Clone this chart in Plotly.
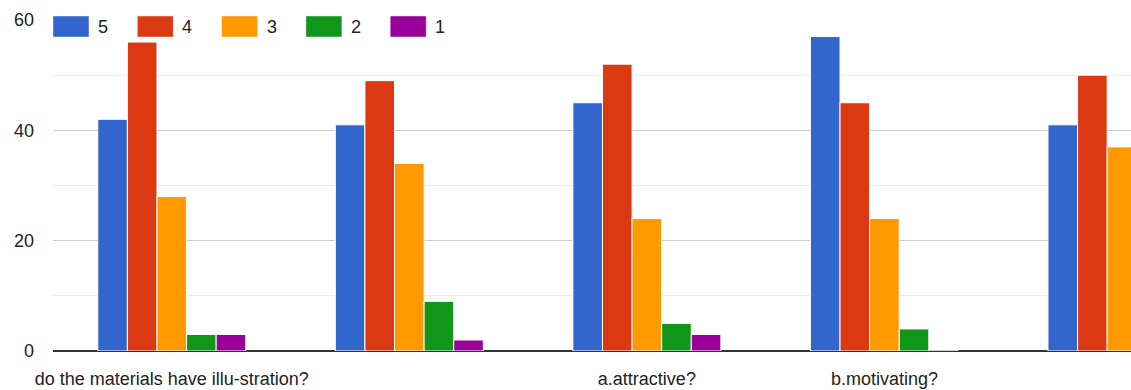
import plotly.graph_objects as go

# ---- data ----
category_labels = [
    "do the materials have illu-stration?",
    "",
    "a.attractive?",
    "b.motivating?",
    "",
]
series_names = ["5", "4", "3", "2", "1"]
series_colors = ["#3366cc", "#dc3912", "#ff9900", "#109618", "#990099"]

values_5 = [42, 41, 45, 57, 41]
values_4 = [56, 49, 52, 45, 50]
values_3 = [28, 34, 24, 24, 37]
values_2 = [3, 9, 5, 4, None]
values_1 = [3, 2, 3, 0, None]

y_ticks = [0, 20, 40, 60]
y_minor = [10, 30, 50]

all_values = [values_5, values_4, values_3, values_2, values_1]
x_pos = list(range(len(category_labels)))

FONT = "Liberation Sans, Arial, sans-serif"
TEXT = "#222222"

fig = go.Figure()
for name, color, vals in zip(series_names, series_colors, all_values):
    fig.add_trace(go.Bar(
        x=x_pos, y=vals, name=name,
        marker=dict(color=color, line=dict(color="white", width=1)),
        showlegend=False,
    ))

W, H = 1131, 390
ML, MR, MT, MB = 53, 0, 20, 39
pw = W - ML - MR
ph = H - MT - MB

def px_x(p):
    return (p - ML) / pw

def px_y(p):
    return (H - MB - p) / ph

# custom legend (Google-chart style rectangular swatches)
shapes = []
annotations = []
step = 84.3
for i, (name, color) in enumerate(zip(series_names, series_colors)):
    x0 = ML + step * i
    shapes.append(dict(
        type="rect", xref="paper", yref="paper",
        x0=px_x(x0), x1=px_x(x0 + 36), y0=px_y(37), y1=px_y(16),
        fillcolor=color, line=dict(color="rgba(255,255,255,0.45)", width=1),
        layer="above",
    ))
    annotations.append(dict(
        xref="paper", yref="paper", x=px_x(x0 + 43), y=px_y(27),
        text=name, showarrow=False, xanchor="left", yanchor="middle",
        font=dict(family=FONT, size=18, color=TEXT),
    ))

fig.update_layout(
    width=W, height=H,
    margin=dict(l=ML, r=MR, t=MT, b=MB, pad=0),
    paper_bgcolor="white", plot_bgcolor="white",
    barmode="group", bargap=0.377, bargroupgap=0.0,
    font=dict(family=FONT, size=18, color=TEXT),
    shapes=shapes, annotations=annotations,
    xaxis=dict(
        range=[-0.5, 4.038],
        tickvals=x_pos, ticktext=category_labels,
        showgrid=False, zeroline=False, showline=False,
        ticks="", ticklabelstandoff=15, automargin=False,
        tickfont=dict(family=FONT, size=18, color=TEXT),
        fixedrange=True,
    ),
    yaxis=dict(
        range=[0, 60], tickvals=y_ticks,
        showgrid=True, gridcolor="#cccccc", gridwidth=1,
        minor=dict(tickvals=y_minor, showgrid=True, gridcolor="#ebebeb", gridwidth=1),
        zeroline=True, zerolinecolor="#333333", zerolinewidth=2,
        showline=False, ticks="", automargin=False,
        ticklabelstandoff=18,
        tickfont=dict(family=FONT, size=18, color=TEXT),
        fixedrange=True,
    ),
)

fig.write_html("out.html", config={"displayModeBar": False})
